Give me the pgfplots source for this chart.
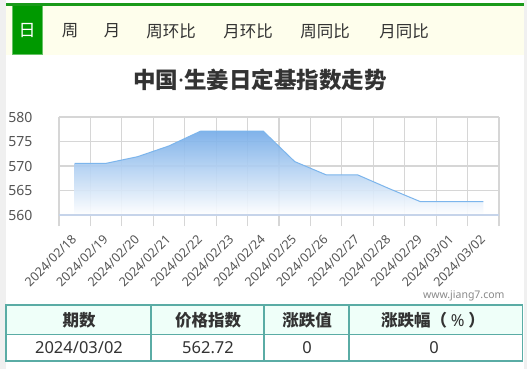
\documentclass[border=0pt]{standalone}
\usepackage{pgfplots}
\pgfplotsset{compat=1.18}
\usepackage{fontspec}
\setmainfont{Noto Sans CJK SC}
\newfontfamily\lat{Noto Sans}
\definecolor{gtab}{HTML}{009900}
\definecolor{gline}{HTML}{1A9A1A}
\definecolor{tabbg}{HTML}{FEFEEC}
\definecolor{txt}{HTML}{333333}
\definecolor{gridc}{HTML}{D6D6D6}
\definecolor{axisc}{HTML}{C6D4EA}
\definecolor{linec}{HTML}{7CB5EC}
\definecolor{fillc}{HTML}{74ABE8}
\definecolor{tborder}{HTML}{5AACA5}
\definecolor{thead}{HTML}{EFFFF9}
\definecolor{pagec}{HTML}{F0F0F0}
\definecolor{labc}{HTML}{555555}
\definecolor{wm}{HTML}{8A8A8A}
\newcommand{\px}[1]{\fontsize{#1bp}{#1bp}\selectfont}
\begin{document}
\begin{tikzpicture}
\begin{scope}[x=1bp,y=-1bp]
\path[use as bounding box] (0,0) rectangle (529,369);
\fill[white] (0,0) rectangle (529,369);
\fill[pagec] (0,0) rectangle (6,369);
\fill[pagec] (524,0) rectangle (527,369);
% tab bar
\fill[tabbg] (6,6) rectangle (523.5,55);
\fill[gline] (6,3) rectangle (523.5,6);
\fill[gtab!60!white] (11.5,6) rectangle (42.5,55);
\fill[gtab] (12.5,6) rectangle (41.5,54);
\node[text=white,font=\px{17}] at (27,31) {日};
\node[text=txt,font=\px{16.5}] at (70,31) {周};
\node[text=txt,font=\px{16.5}] at (112,31) {月};
\node[text=txt,font=\px{16.5}] at (171,31) {周环比};
\node[text=txt,font=\px{16.5}] at (248,31) {月环比};
\node[text=txt,font=\px{16.5}] at (325,31) {周同比};
\node[text=txt,font=\px{16.5}] at (404,31) {月同比};
% title
\node[text=txt,font=\bfseries\px{22.5}] at (260,80) {中国{\lat\bfseries·}生姜日定基指数走势};
% watermark
\node[text=wm,font=\lat\px{10.5},anchor=east] at (508,296) {www.jiang7.com};
% table
\fill[thead] (6,305) rectangle (522.5,334.5);
\draw[tborder,line width=1.3bp] (6,305) rectangle (522.5,361);
\draw[tborder,line width=1.3bp] (6,334.5) -- (522.5,334.5);
\foreach \xx in {151,264,349} \draw[tborder,line width=1.3bp] (\xx,305) -- (\xx,361);
\node[text=txt,font=\bfseries\px{16.5}] at (79,320) {期数};
\node[text=txt,font=\bfseries\px{16.5}] at (208,320) {价格指数};
\node[text=txt,font=\bfseries\px{16.5}] at (307,320) {涨跌值};
\node[text=txt,font=\bfseries\px{16.5}] at (433,320) {涨跌幅（ {\lat\bfseries\%} ）};
\node[text=txt,font=\lat\px{16.5}] at (79,348) {2024/03/02};
\node[text=txt,font=\lat\px{16.5}] at (208,348) {562.72};
\node[text=txt,font=\lat\px{16.5}] at (307,348) {0};
\node[text=txt,font=\lat\px{16.5}] at (434,348) {0};
\end{scope}
\begin{axis}[
  at={(59bp,-215bp)}, anchor=south west,
  scale only axis, width=440bp, height=98bp,
  xmin=-0.5, xmax=13.5, ymin=560, ymax=580,
  axis line style={draw=none},
  xtick={-0.5,0.5,...,13.5},
  x tick label as interval,
  xticklabels={2024/02/18,2024/02/19,2024/02/20,2024/02/21,2024/02/22,2024/02/23,2024/02/24,2024/02/25,2024/02/26,2024/02/27,2024/02/28,2024/02/29,2024/03/01,2024/03/02},
  ytick={560,565,...,580},
  grid=major,
  grid style={color=gridc, line width=1.2bp},
  tick align=outside,
  xtick pos=lower, ytick pos=left,
  major tick length=11bp,
  x tick style={color=gridc, line width=1.2bp},
  y tick style={draw=none},
  /pgf/number format/assume math mode=true,
  xticklabel style={xshift=-0.5bp, yshift=-11bp, rotate=45, anchor=east, font=\lat\px{12.5}, text=labc, inner sep=0bp},
  yticklabel style={font=\lat\px{14}, text=labc, xshift=-12bp},
]
\addplot[draw=none, fill opacity=0.9, top color=fillc, bottom color=white] coordinates {
(0,570.55) (1,570.55) (2,571.9) (3,574.1) (4,577.1) (5,577.1) (6,577.1)
(7,570.9) (8,568.2) (9,568.2) (10,565.4) (11,562.72) (12,562.72) (13,562.72)} \closedcycle;
\addplot[draw=linec, line width=1bp, mark=none] coordinates {
(0,570.55) (1,570.55) (2,571.9) (3,574.1) (4,577.1) (5,577.1) (6,577.1)
(7,570.9) (8,568.2) (9,568.2) (10,565.4) (11,562.72) (12,562.72) (13,562.72)};
\draw[axisc, line width=1.2bp] (axis cs:-0.5,560) -- (axis cs:13.5,560);
\end{axis}
\end{tikzpicture}
\end{document}
